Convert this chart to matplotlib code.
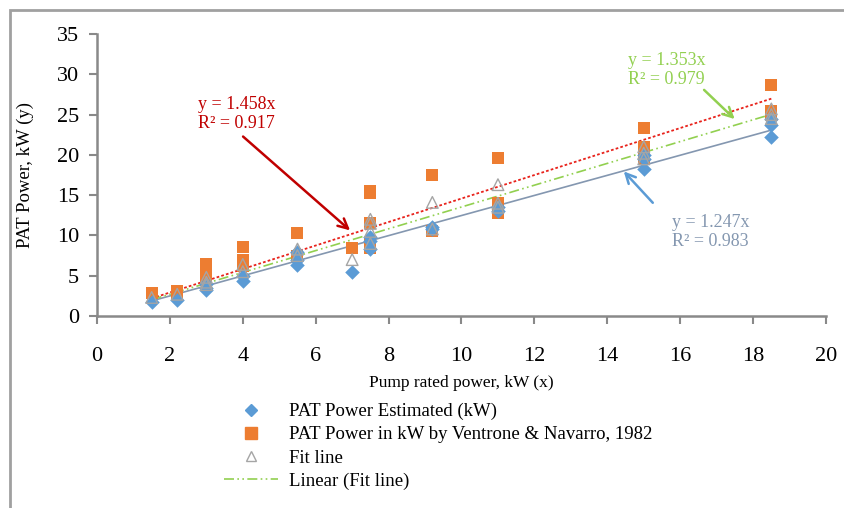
import matplotlib
matplotlib.use("Agg")
import matplotlib.pyplot as plt
from matplotlib.patches import Rectangle
from matplotlib.lines import Line2D
import numpy as np

plt.rcParams['font.family'] = ['Liberation Serif', 'DejaVu Serif']

# Data
est_x = [1.5, 2.2, 3, 3, 3, 4, 4, 5.5, 5.5, 5.5, 7, 7.5, 7.5, 7.5, 9.2, 9.2, 11, 11, 15, 15, 15, 18.5, 18.5, 18.5]
est_y = [1.7, 2.0, 3.2, 3.5, 4.0, 4.3, 5.0, 6.3, 7.0, 8.0, 5.4, 8.3, 9.3, 9.8, 10.8, 11.0, 13.0, 13.5, 18.2, 19.5, 20.0, 22.2, 23.7, 24.5]

vn_x = [1.5, 2.2, 2.2, 3, 3, 3, 4, 4, 4, 5.5, 5.5, 7, 7.5, 7.5, 7.5, 7.5, 7.5, 9.2, 9.2, 11, 11, 11, 15, 15, 15, 15, 18.5, 18.5, 18.5]
vn_y = [2.8, 3.1, 2.6, 6.5, 5.8, 4.5, 8.6, 6.9, 6.2, 10.3, 7.5, 8.5, 15.5, 15.3, 11.5, 9.0, 8.5, 17.5, 10.5, 19.6, 14.0, 12.8, 23.3, 21.0, 20.5, 19.5, 28.7, 25.5, 25.0]

fit_x = [1.5, 2.2, 3, 3, 3, 4, 4, 5.5, 5.5, 7, 7.5, 7.5, 7.5, 7.5, 9.2, 9.2, 11, 11, 11, 15, 15, 15, 18.5, 18.5, 18.5]
fit_y = [2.3, 2.7, 4.8, 4.2, 3.9, 6.4, 5.5, 8.3, 7.5, 7.0, 12.0, 11.5, 10.5, 9.0, 14.1, 10.8, 16.3, 14.0, 13.5, 21.0, 20.2, 19.5, 25.7, 25.0, 24.5]

slope_est, r2_est = 1.247, 0.983
slope_vn, r2_vn = 1.458, 0.917
slope_fit, r2_fit = 1.353, 0.979
trend_range = [1.5, 18.5]

labels = ["PAT Power Estimated (kW)",
          "PAT Power in kW by Ventrone & Navarro, 1982",
          "Fit line",
          "Linear (Fit line)"]

c_blue = '#5B9BD5'
c_orange = '#ED7D31'
c_gray = '#A5A5A5'
c_trend_blue = '#8497B0'
c_green = '#92D050'
c_red = '#C00000'

fig = plt.figure(figsize=(8.45, 5.08), dpi=100)
ax = fig.add_axes([97/845, 1-316/508, (826-97)/845, (316-34)/508])

tx = np.array(trend_range)
ax.plot(tx, slope_est*tx, color=c_trend_blue, lw=1.2, zorder=2)
ax.plot(tx, slope_vn*tx, color='#E8221B', lw=1.3, ls=(0, (1.5, 1.2)), zorder=2)
ax.plot(tx, slope_fit*tx, color=c_green, lw=1.2, ls=(0, (6, 2, 1, 2, 1, 2)), zorder=2)

ax.scatter(vn_x, vn_y, marker='s', s=70, color=c_orange, zorder=3, linewidths=0)
ax.scatter(est_x, est_y, marker='D', s=55, color=c_blue, zorder=4, linewidths=0)
ax.scatter(fit_x, fit_y, marker='^', s=70, facecolors='none', edgecolors=c_gray, linewidths=1.0, zorder=5)

ax.set_xlim(0, 20)
ax.set_ylim(0, 35)
ax.set_xticks(range(0, 21, 2))
ax.set_yticks(range(0, 36, 5))
for s in ['top', 'right']:
    ax.spines[s].set_visible(False)
for s in ['left', 'bottom']:
    ax.spines[s].set_color('#898989')
    ax.spines[s].set_linewidth(1.8)
ax.tick_params(axis='both', colors='#898989', labelcolor='black', labelsize=16, width=1.5, length=6)
ax.tick_params(axis='x', pad=16)
ax.tick_params(axis='y', pad=7)

ax.set_ylabel("PAT Power, kW (y)", fontsize=13.5, labelpad=16)
fig.text(461/845, 1-383/508, "Pump rated power, kW (x)", fontsize=12.5, ha='center', va='center')

arrow_kw = dict(arrowstyle='->,head_length=0.7,head_width=0.35', lw=1.8)

# Trendline annotations
fig.text(198/845, 1-114/508, f"y = {slope_vn}x\nR² = {r2_vn}", color=c_red, fontsize=13,
         ha='left', va='center', linespacing=1.15)
ax.annotate("", xy=(7.0, 10.4), xytext=(3.95, 22.5),
            arrowprops=dict(color=c_red, **arrow_kw))

fig.text(628/845, 1-70/508, f"y = {slope_fit}x\nR² = {r2_fit}", color=c_green, fontsize=13,
         ha='left', va='center', linespacing=1.15)
ax.annotate("", xy=(17.55, 24.2), xytext=(16.6, 28.3),
            arrowprops=dict(color=c_green, **arrow_kw))

fig.text(672/845, 1-232/508, f"y = {slope_est}x\nR² = {r2_est}", color=c_trend_blue, fontsize=13,
         ha='left', va='center', linespacing=1.15)
ax.annotate("", xy=(14.4, 18.2), xytext=(15.3, 13.8),
            arrowprops=dict(color=c_blue, **arrow_kw))

handles = [
    Line2D([], [], marker='D', color=c_blue, ls='none', markersize=6),
    Line2D([], [], marker='s', color=c_orange, ls='none', markersize=8),
    Line2D([], [], marker='^', markerfacecolor='none', markeredgecolor=c_gray, ls='none', markersize=7),
    Line2D([], [], color=c_green, lw=1.2, ls=(0, (6, 2, 1, 2, 1, 2))),
]
fig.legend(handles, labels, loc='upper left', bbox_to_anchor=(224/845, 1-403/508),
           frameon=False, fontsize=13.5, handlelength=2.9, handletextpad=0.55,
           labelspacing=0.32, borderpad=0, borderaxespad=0)

fig.patches.append(Rectangle((10/845, -0.05), 1.2, 1-10/508+0.05, transform=fig.transFigure,
                             fill=False, edgecolor='#A0A0A0', lw=2, figure=fig))

fig.savefig("out.png", dpi=100)
